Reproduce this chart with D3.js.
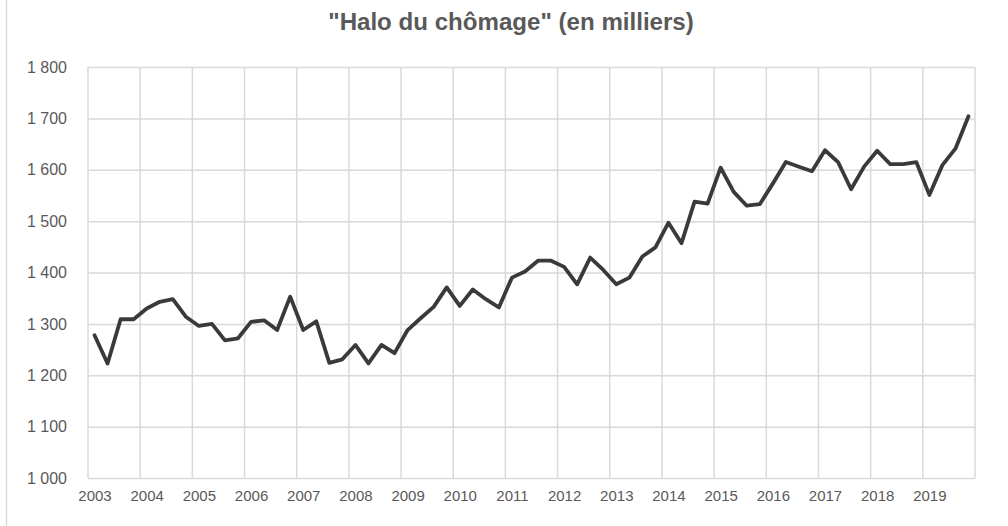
<!DOCTYPE html>
<html>
<head>
<meta charset="utf-8">
<script src="https://cdn.jsdelivr.net/npm/d3@7"></script>
<style>
  body { margin: 0; background: #fff; }
  svg { display: block; font-family: "Liberation Sans", Arial, sans-serif; }
</style>
</head>
<body>
<div id="chart"></div>
<script>
// Données : halo du chômage, trimestriel 2003T1 - 2019T4 (en milliers)
const title = '"Halo du chômage" (en milliers)';
const years = [2003, 2004, 2005, 2006, 2007, 2008, 2009, 2010, 2011,
  2012, 2013, 2014, 2015, 2016, 2017, 2018, 2019];
const yTicks = [1000, 1100, 1200, 1300, 1400, 1500, 1600, 1700, 1800];
const halo = [
  1278, 1223, 1309, 1309, // 2003
  1330, 1343, 1348, 1314, // 2004
  1296, 1300, 1268, 1272, // 2005
  1304, 1307, 1288, 1353, // 2006
  1288, 1305, 1224, 1231, // 2007
  1259, 1223, 1259, 1243, // 2008
  1288, 1311, 1333, 1371, // 2009
  1335, 1367, 1348, 1332, // 2010
  1390, 1402, 1423, 1423, // 2011
  1411, 1377, 1429, 1405, // 2012
  1377, 1390, 1431, 1449, // 2013
  1497, 1457, 1538, 1534, // 2014
  1604, 1557, 1530, 1533, // 2015
  1573, 1615, 1606, 1597, // 2016
  1638, 1615, 1562, 1606, // 2017
  1637, 1611, 1611, 1615, // 2018
  1551, 1609, 1641, 1704  // 2019
];

const W = 1008, H = 526;
const mLeft = 88, mRight = 975, mTop = 67, mBottom = 478;
const gridColor = "#d9d9d9";
const textColor = "#595959";

const svg = d3.select("#chart").append("svg")
  .attr("width", W).attr("height", H);

// bordure gauche de la zone graphique
svg.append("line")
  .attr("x1", 6.5).attr("x2", 6.5).attr("y1", 0).attr("y2", H)
  .attr("stroke", gridColor).attr("stroke-width", 1.5);

// échelles
const x = d3.scaleLinear().domain([0, halo.length]).range([mLeft, mRight]);
const y = d3.scaleLinear().domain([1000, 1800]).range([mBottom, mTop]);

const fr = d3.formatLocale({ decimal: ",", thousands: "\u00a0", grouping: [3], currency: ["", " €"] });
const fmt = fr.format(",");

// grille horizontale + axe Y
const yAxis = d3.axisLeft(y).tickValues(yTicks).tickFormat(fmt)
  .tickSize(-(mRight - mLeft)).tickPadding(21);
const gy = svg.append("g").attr("transform", `translate(${mLeft},0)`).call(yAxis);
gy.select(".domain").remove();
gy.selectAll(".tick line").attr("stroke", gridColor).attr("stroke-width", 1.5);
gy.selectAll(".tick text").attr("fill", textColor).style("font-size", "16px");

// grille verticale (limites d'années)
const yearBounds = d3.range(0, halo.length + 1, 4);
svg.append("g").selectAll("line").data(yearBounds).join("line")
  .attr("x1", d => x(d)).attr("x2", d => x(d))
  .attr("y1", mTop).attr("y2", mBottom)
  .attr("stroke", gridColor).attr("stroke-width", 1.5);

// étiquettes des années (centrées sur le 1er trimestre)
const xAxis = d3.axisBottom(x)
  .tickValues(years.map((d, i) => i * 4 + 0.5))
  .tickFormat((d, i) => years[i])
  .tickSize(0).tickPadding(12);
const gx = svg.append("g").attr("transform", `translate(0,${mBottom})`).call(xAxis);
gx.select(".domain").remove();
gx.selectAll(".tick text").attr("fill", textColor).style("font-size", "15px");

// courbe
const line = d3.line()
  .x((d, i) => x(i + 0.5))
  .y(d => y(d));
svg.append("path")
  .datum(halo)
  .attr("d", line)
  .attr("fill", "none")
  .attr("stroke", "#3a3a3a")
  .attr("stroke-width", 3.8)
  .attr("stroke-linejoin", "round")
  .attr("stroke-linecap", "round");

// titre
const t = svg.append("text")
  .attr("x", 511).attr("y", 30)
  .attr("text-anchor", "middle")
  .attr("fill", textColor)
  .style("font-weight", "bold")
  .style("font-size", "21px")
  .text(title);
// ajuster la taille pour la largeur du titre (~365px)
const tw = t.node().getComputedTextLength();
t.style("font-size", (21 * 365 / tw).toFixed(1) + "px");
</script>
</body>
</html>
